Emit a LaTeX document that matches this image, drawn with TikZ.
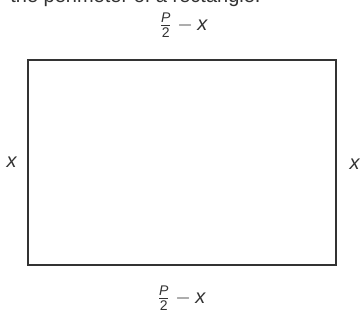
\documentclass[tikz,border=0pt]{standalone}
\usepackage{amsmath}
\usepackage{fontspec}
\setmainfont{Liberation Sans}
\usepackage{xcolor}
\definecolor{inkgray}{HTML}{333333}

\begin{document}
\begin{tikzpicture} [x=0.5pt, y=0.5pt, every node/.style={text=inkgray, font=\fontsize{10}{12}\selectfont}]

        \useasboundingbox (0, 0) rectangle (360, 320);
        \clip (0, 0) rectangle (360, 320);

        % the rectangle
        \node[draw=inkgray, line width=1.2pt, inner sep=0pt, minimum width=154pt, minimum height=102.5pt] (rect) at (182, 157.5) {};

        % side labels
        \node (topside) at (183, 295) {$\frac{\textit{P}}{\textup{2}} - \textit{x}$};
        \node (bottomside) at (181, 22) {$\frac{\textit{P}}{\textup{2}} - \textit{x}$};
        \node (leftside) at (12, 158) {\textit{x}};
        \node (rightside) at (355, 156) {\textit{x}};

        % caption line, cut by the page edge
        \node[anchor=base west, inner sep=0pt] (caption) at (10, 317) {the perimeter of a rectangle.};
    \end{tikzpicture}
\end{document}
